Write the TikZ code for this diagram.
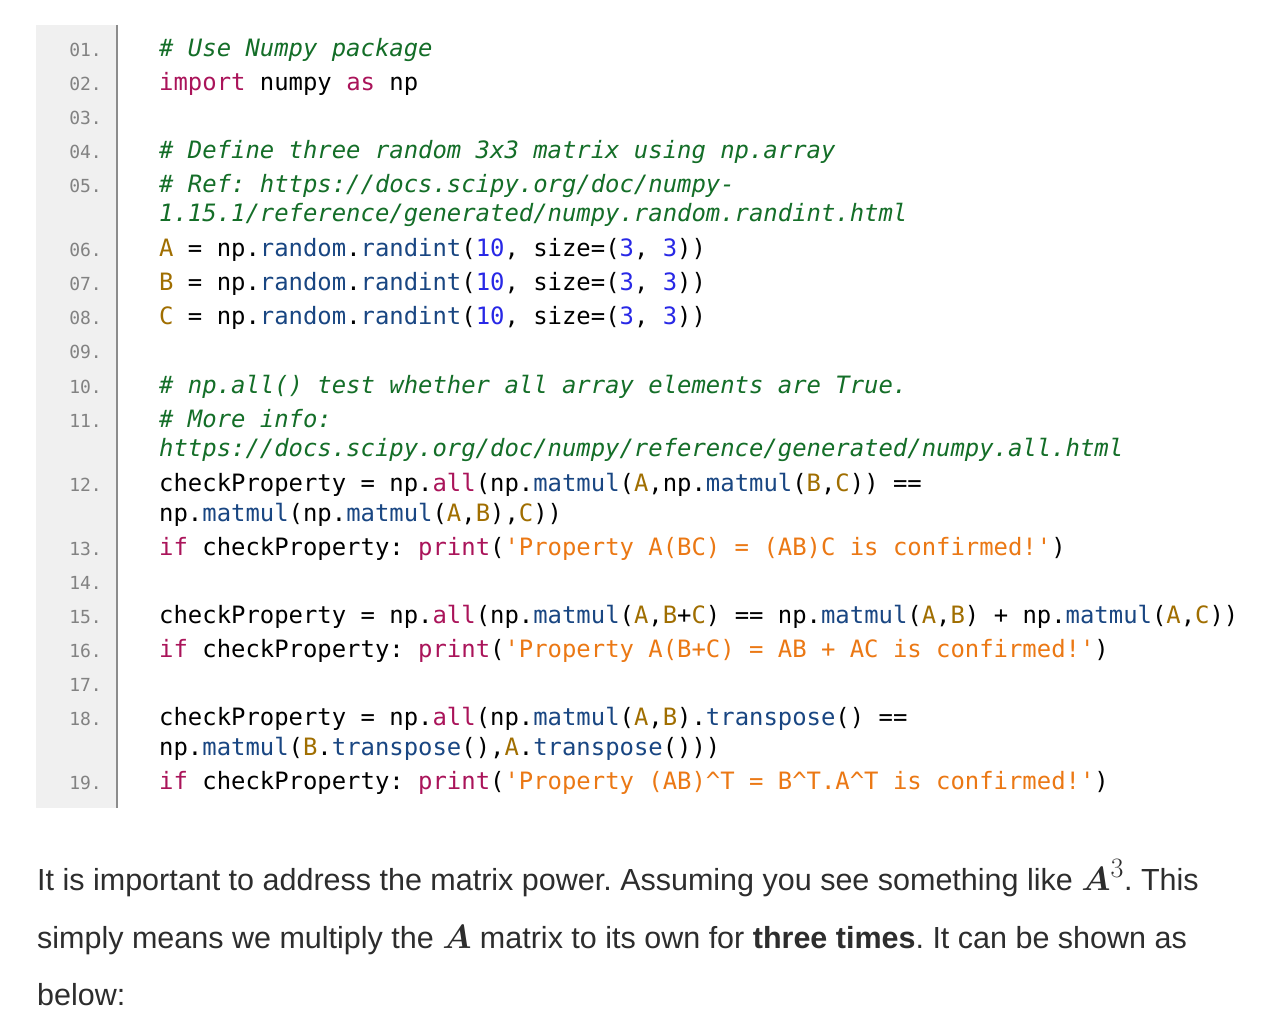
\documentclass[tikz,border=0pt]{standalone}
\usepackage{amsmath}
\usepackage{graphicx}
\usepackage{fontspec}
\newfontfamily\mono{DejaVu Sans Mono}
\newfontfamily\prose{Liberation Sans}
\frenchspacing
\definecolor{cmt}{RGB}{20,110,40}
\definecolor{kwc}{RGB}{170,20,90}
\definecolor{fnc}{RGB}{25,70,130}
\definecolor{nmc}{RGB}{40,40,230}
\definecolor{vrc}{RGB}{160,110,0}
\definecolor{stc}{RGB}{235,120,20}
\definecolor{lnc}{RGB}{130,130,130}
\definecolor{txc}{RGB}{45,45,45}
\newcommand\cm[1]{\textcolor{cmt}{\itshape #1}}
\newcommand\kw[1]{\textcolor{kwc}{#1}}
\newcommand\fn[1]{\textcolor{fnc}{#1}}
\newcommand\nm[1]{\textcolor{nmc}{#1}}
\newcommand\vr[1]{\textcolor{vrc}{#1}}
\newcommand\st[1]{\textcolor{stc}{#1}}
\newcommand\ca{\textasciicircum}
\newcommand\bigA[1]{\scalebox{1.35}{$\boldsymbol{A}#1$}}
\tikzset{code/.style={anchor=base west,inner sep=0,font=\mono\fontsize{23.9}{28}\selectfont,text=black},
 lnum/.style={anchor=base east,inner sep=0,font=\mono\fontsize{18}{22}\selectfont,text=lnc},
 txt/.style={anchor=base west,inner sep=0,font=\prose\fontsize{30.5}{34}\selectfont,text=txc}}
\begin{document}
\begin{tikzpicture}[x=1pt,y=-1pt]
\useasboundingbox[fill=white] (0,0) rectangle (1280,1032);
\fill[black!6] (36,25) rectangle (116,808);
\draw[black!45,line width=2pt] (117,25) -- (117,808);
\foreach \n/\y in {01/50,02/84,03/118,04/152,05/186,06/250,07/284,08/318,09/352,10/386,11/420,12/484,13/548,14/582,15/616,16/650,17/684,18/718,19/782}
  \node[lnum] (n\n) at (102,\y+7) {\n.};
\node[code] (l1) at (159,57) {\cm{\# Use Numpy package}};
\node[code] (l2) at (159,91) {\kw{import} numpy \kw{as} np};
\node[code] (l4) at (159,159) {\cm{\# Define three random 3x3 matrix using np.array}};
\node[code] (l5) at (159,193) {\cm{\# Ref: https://docs.scipy.org/doc/numpy-}};
\node[code] (l5b) at (159,222) {\cm{1.15.1/reference/generated/numpy.random.randint.html}};
\node[code] (l6) at (159,257) {\vr{A} = np.\fn{random}.\fn{randint}(\nm{10}, size=(\nm{3}, \nm{3}))};
\node[code] (l7) at (159,291) {\vr{B} = np.\fn{random}.\fn{randint}(\nm{10}, size=(\nm{3}, \nm{3}))};
\node[code] (l8) at (159,325) {\vr{C} = np.\fn{random}.\fn{randint}(\nm{10}, size=(\nm{3}, \nm{3}))};
\node[code] (l10) at (159,393) {\cm{\# np.all() test whether all array elements are True.}};
\node[code] (l11) at (159,427) {\cm{\# More info:}};
\node[code] (l11b) at (159,456) {\cm{https://docs.scipy.org/doc/numpy/reference/generated/numpy.all.html}};
\node[code] (l12) at (159,491) {checkProperty = np.\kw{all}(np.\fn{matmul}(\vr{A},np.\fn{matmul}(\vr{B},\vr{C})) ==};
\node[code] (l12b) at (159,521) {np.\fn{matmul}(np.\fn{matmul}(\vr{A},\vr{B}),\vr{C}))};
\node[code] (l13) at (159,555) {\kw{if} checkProperty: \kw{print}(\st{'Property A(BC) = (AB)C is confirmed!'})};
\node[code] (l15) at (159,623) {checkProperty = np.\kw{all}(np.\fn{matmul}(\vr{A},\vr{B}+\vr{C}) == np.\fn{matmul}(\vr{A},\vr{B}) + np.\fn{matmul}(\vr{A},\vr{C}))};
\node[code] (l16) at (159,657) {\kw{if} checkProperty: \kw{print}(\st{'Property A(B+C) = AB + AC is confirmed!'})};
\node[code] (l18) at (159,725) {checkProperty = np.\kw{all}(np.\fn{matmul}(\vr{A},\vr{B}).\fn{transpose}() ==};
\node[code] (l18b) at (159,755) {np.\fn{matmul}(\vr{B}.\fn{transpose}(),\vr{A}.\fn{transpose}()))};
\node[code] (l19) at (159,789) {\kw{if} checkProperty: \kw{print}(\st{'Property (AB)\ca T = B\ca T.A\ca T is confirmed!'})};
\node[txt] (p1) at (37,890) {It is important to address the matrix power. Assuming you see something like \bigA{^3}. This};
\node[txt] (p2) at (37,948) {simply means we multiply the \bigA{} matrix to its own for \textbf{three times}. It can be shown as};
\node[txt] (p3) at (37,1005) {below:};
\end{tikzpicture}
\end{document}
